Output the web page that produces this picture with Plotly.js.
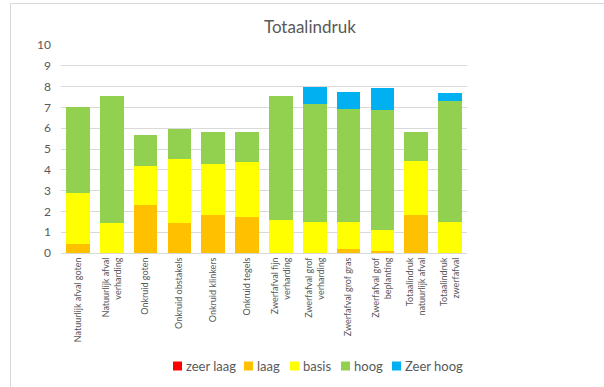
<!DOCTYPE html>
<html>
<head>
<meta charset="utf-8">
<script src="https://cdn.plot.ly/plotly-3.0.1.min.js"></script>
<style>
html,body{margin:0;padding:0;background:#fff;}
#wrap{position:relative;width:604px;height:387px;overflow:hidden;}
#chart{position:absolute;left:0;top:0;width:604px;height:387px;}
#frame{position:absolute;left:10px;top:3px;width:700px;height:500px;border-top:1px solid #d9d9d9;border-left:1px solid #d9d9d9;pointer-events:none;}
</style>
</head>
<body>
<div id="wrap"><div id="chart"></div><div id="frame"></div></div>
<script>
var categories = [
  "Natuurlijk afval goten",
  "Natuurlijk afval<br>verharding",
  "Onkruid goten",
  "Onkruid obstakels",
  "Onkruid klinkers",
  "Onkruid tegels",
  "Zwerfafval fijn<br>verharding",
  "Zwerfafval grof<br>verharding",
  "Zwerfafval grof gras",
  "Zwerfafval grof<br>beplanting",
  "Totaalindruk<br>natuurlijk afval",
  "Totaalindruk<br>zwerfafval"
];
var seriesNames = ["zeer laag", "laag", "basis", "hoog", "Zeer hoog"];
var zeerLaag = [0, 0, 0, 0, 0, 0, 0, 0, 0, 0, 0, 0];
var laag     = [0.43, 0, 2.33, 1.44, 1.82, 1.73, 0, 0, 0.18, 0.11, 1.85, 0];
var basis    = [2.44, 1.44, 1.84, 3.10, 2.48, 2.64, 1.57, 1.48, 1.33, 0.98, 2.55, 1.51];
var hoog     = [4.13, 6.12, 1.50, 1.43, 1.50, 1.43, 5.97, 5.68, 5.42, 5.78, 1.40, 5.79];
var zeerHoog = [0, 0, 0, 0, 0, 0, 0, 0.84, 0.79, 1.04, 0, 0.37];
var yTicks = [0, 1, 2, 3, 4, 5, 6, 7, 8, 9, 10];

var seriesValues = [zeerLaag, laag, basis, hoog, zeerHoog];
var colors = ["#FF0000", "#FFC000", "#FFFF00", "#92D050", "#00B0F0"];

var FONT = "Lato, 'Liberation Sans', sans-serif";
var W = 604, H = 387;
var M = {l: 61, r: 137, t: 45, b: 134};
var plotW = W - M.l - M.r, plotH = H - M.t - M.b;

var traces = seriesNames.map(function (name, i) {
  return {
    type: "bar",
    name: name,
    x: categories,
    y: seriesValues[i],
    marker: {color: colors[i], line: {width: 0}},
    hoverinfo: "x+y+name",
    showlegend: false
  };
});

// Legend drawn as real text beside colour swatches (Excel-style compact legend)
var legendSwatchPx = [173, 244, 290, 341, 392]; // left edge of each swatch, page px
var legendCenterY = 366; // page px
var sw = 9;
function px2x(px) { return (px - M.l) / plotW; }
function py2y(py) { return (H - M.b - py) / plotH; }
var shapes = [], annotations = [];
seriesNames.forEach(function (name, i) {
  var x0 = legendSwatchPx[i];
  shapes.push({
    type: "rect", xref: "paper", yref: "paper",
    x0: px2x(x0), x1: px2x(x0 + sw),
    y0: py2y(legendCenterY + sw / 2), y1: py2y(legendCenterY - sw / 2),
    fillcolor: colors[i], line: {width: 0}
  });
  annotations.push({
    xref: "paper", yref: "paper",
    x: px2x(x0 + sw + 2), y: py2y(legendCenterY),
    xanchor: "left", yanchor: "middle",
    text: name, showarrow: false,
    font: {family: FONT, size: 13, color: "#595959"}
  });
});

var layout = {
  width: W,
  height: H,
  paper_bgcolor: "#ffffff",
  plot_bgcolor: "#ffffff",
  margin: {l: M.l, r: M.r, t: M.t, b: M.b, pad: 0},
  barmode: "stack",
  bargap: 0.3,
  font: {family: FONT, color: "#595959", size: 12},
  title: {
    text: "Totaalindruk",
    font: {family: FONT, size: 17, color: "#595959"},
    x: 0.513, xref: "container", xanchor: "center",
    y: 0.93, yref: "container", yanchor: "middle"
  },
  xaxis: {
    type: "category",
    tickangle: -90,
    tickfont: {family: FONT, size: 9, color: "#595959"},
    showgrid: false,
    showline: true,
    linecolor: "#d9d9d9",
    linewidth: 1,
    ticks: "",
    automargin: false,
    fixedrange: true
  },
  yaxis: {
    range: [0, 10],
    tickvals: yTicks,
    ticktext: yTicks.map(String),
    tickfont: {family: FONT, size: 12, color: "#595959"},
    showgrid: true,
    gridcolor: "#d9d9d9",
    gridwidth: 1,
    zeroline: false,
    showline: false,
    ticks: "",
    ticklabelstandoff: 9,
    automargin: false,
    fixedrange: true
  },
  showlegend: false,
  shapes: shapes,
  annotations: annotations
};

Plotly.newPlot("chart", traces, layout, {displayModeBar: false, staticPlot: true});
</script>
</body>
</html>
